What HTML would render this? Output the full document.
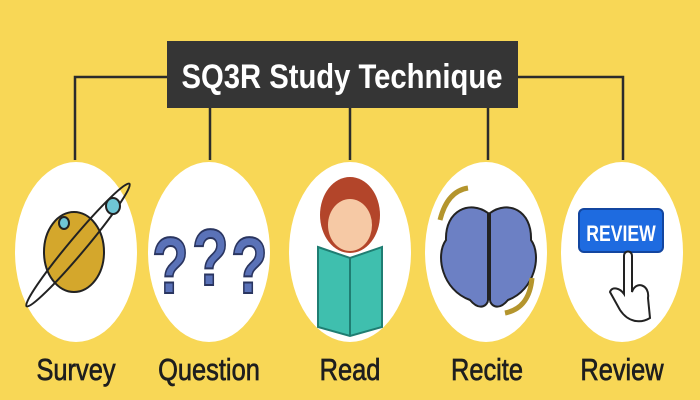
<!DOCTYPE html>
<html><head><meta charset="utf-8"><style>
html,body{margin:0;padding:0;background:#F8D756;}
svg{display:block}
</style></head><body>
<svg width="700" height="400" viewBox="0 0 700 400" xmlns="http://www.w3.org/2000/svg">
<rect width="700" height="400" fill="#F8D756"/>
<g stroke="#2b2b2b" stroke-width="2.5" fill="none">
<polyline points="168,77 75,77 75,160"/>
<line x1="210" y1="107" x2="210" y2="160"/>
<line x1="350" y1="107" x2="350" y2="160"/>
<line x1="488" y1="107" x2="488" y2="160"/>
<polyline points="518,77 623,77 623,160"/>
</g>
<rect x="167" y="41" width="351" height="67" fill="#353535"/>
<text x="342" y="88" text-anchor="middle" font-family="Liberation Sans, sans-serif" font-weight="bold" font-size="34" fill="#fff" transform="translate(342 0) scale(0.86 1) translate(-342 0)">SQ3R Study Technique</text>

<g fill="#fff">
<ellipse cx="76" cy="252" rx="61" ry="90"/>
<ellipse cx="209" cy="252" rx="61" ry="90"/>
<ellipse cx="350" cy="252" rx="61" ry="90"/>
<ellipse cx="486" cy="252" rx="61" ry="90"/>
<ellipse cx="622" cy="252" rx="61" ry="90"/>
</g>

<g>
<ellipse cx="74" cy="252" rx="30" ry="40" fill="#D4A72C" stroke="#222" stroke-width="2"/>
<ellipse cx="78" cy="245" rx="8" ry="80" fill="none" stroke="#222" stroke-width="2" transform="rotate(40 78 245)"/>
<ellipse cx="113" cy="206" rx="7" ry="8" fill="#6FC6D6" stroke="#222" stroke-width="2"/>
<ellipse cx="64" cy="223" rx="5" ry="6" fill="#6FC6D6" stroke="#222" stroke-width="2"/>
</g>

<g font-family="Liberation Sans, sans-serif" font-weight="bold" font-size="80" fill="#5A72B8" stroke="#2a3560" stroke-width="2">
<text x="152" y="293" transform="translate(152 0) scale(0.75 1) translate(-152 0)">?</text>
<text x="192" y="285" transform="translate(192 0) scale(0.75 1) translate(-192 0)">?</text>
<text x="231" y="293" transform="translate(231 0) scale(0.75 1) translate(-231 0)">?</text>
</g>

<g>
<ellipse cx="350" cy="215" rx="30" ry="38" fill="#B3452A"/>
<ellipse cx="350" cy="225" rx="22" ry="26" fill="#F6C9A5"/>
<path d="M318 247 L350 258 L382 247 L382 327 L350 336 L318 327 Z" fill="#3FBFAE" stroke="#1f7d72" stroke-width="2"/>
<line x1="350" y1="258" x2="350" y2="336" stroke="#1f7d72" stroke-width="2"/>
</g>

<g>
<path d="M488 213 C470 200 445 210 446 240 C435 255 442 290 470 300 C480 312 488 305 488 300 Z" fill="#6C80C4" stroke="#222" stroke-width="2"/>
<path d="M490 213 C508 200 532 210 531 240 C542 255 535 290 508 300 C498 312 490 305 490 300 Z" fill="#6C80C4" stroke="#222" stroke-width="2"/>
<path d="M440 220 C445 200 455 190 468 188" stroke="#B4952D" stroke-width="5" fill="none"/>
<path d="M532 278 C530 300 520 310 505 313" stroke="#B4952D" stroke-width="5" fill="none"/>
</g>

<g>
<rect x="579" y="209" width="84" height="43" rx="5" fill="#1E6BE0" stroke="#1346a0" stroke-width="2"/>
<text x="621" y="241" text-anchor="middle" font-family="Liberation Sans, sans-serif" font-weight="bold" font-size="22" fill="#fff" transform="translate(621 0) scale(0.8 1) translate(-621 0)">REVIEW</text>
<path d="M632 256 L632 292 C636 280 650 285 648 298 L650 318 C640 324 628 322 620 310 L610 292 C612 286 620 288 624 294 L624 256 C624 250 632 250 632 256 Z" fill="#fff" stroke="#222" stroke-width="2"/>
</g>

<g font-family="Liberation Sans, sans-serif" font-size="31" fill="#1e1e1e" stroke="#1e1e1e" stroke-width="0.7" text-anchor="middle">
<text x="76" y="380" transform="translate(76 0) scale(0.82 1) translate(-76 0)">Survey</text>
<text x="209" y="380" transform="translate(209 0) scale(0.82 1) translate(-209 0)">Question</text>
<text x="350" y="380" transform="translate(350 0) scale(0.82 1) translate(-350 0)">Read</text>
<text x="487" y="380" transform="translate(487 0) scale(0.82 1) translate(-487 0)">Recite</text>
<text x="622" y="380" transform="translate(622 0) scale(0.82 1) translate(-622 0)">Review</text>
</g>
</svg>
</body></html>
